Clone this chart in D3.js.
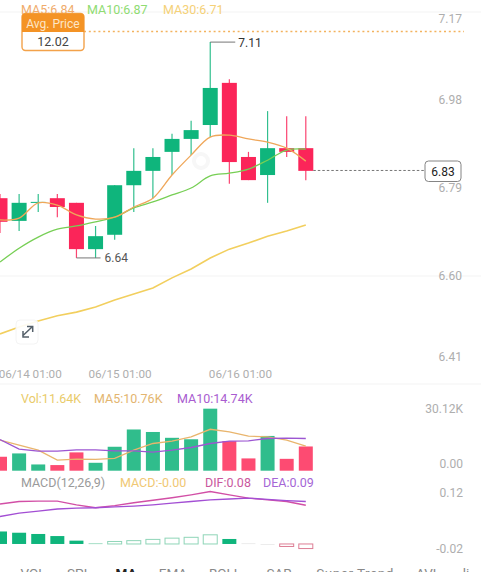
<!DOCTYPE html>
<html><head><meta charset="utf-8">
<script src="https://cdn.jsdelivr.net/npm/d3@7/dist/d3.min.js"></script>
<style>html,body{margin:0;padding:0;background:#fff;overflow:hidden}svg{display:block}text{font-family:Roboto,"Noto Sans",sans-serif}</style>
</head><body><div id="c"></div>
<script>
const indices=d3.range(17);
const opens =[6.768,6.719,6.758,6.768,6.758,6.658,6.689,6.796,6.827,6.868,6.896,6.926,7.017,6.857,6.818,6.876,6.876];
const closes=[6.717,6.758,6.760,6.749,6.658,6.686,6.796,6.827,6.857,6.896,6.915,7.006,6.846,6.807,6.876,6.868,6.827];
const highs =[6.777,6.777,6.777,6.777,6.758,6.708,6.796,6.876,6.876,6.907,6.935,7.105,7.025,6.868,6.956,6.945,6.945];
const lows  =[6.693,6.697,6.738,6.727,6.639,6.639,6.678,6.738,6.768,6.818,6.861,6.900,6.799,6.807,6.758,6.857,6.807];
const ma5 =[6.721,6.725,6.758,6.753,6.732,6.723,6.727,6.749,6.768,6.818,6.861,6.900,6.904,6.896,6.889,6.876,6.848];
const ma10=[6.630,6.660,6.684,6.701,6.708,6.717,6.727,6.747,6.760,6.775,6.790,6.816,6.822,6.831,6.850,6.872,6.874];
const ma30=[6.475,6.490,6.503,6.514,6.522,6.533,6.548,6.561,6.574,6.596,6.615,6.639,6.658,6.671,6.686,6.697,6.710];
const volumes=[6.7,8.3,3.0,2.7,8.8,3.8,11.5,19.8,18.6,15.8,15.1,29.8,14.2,5.9,16.7,5.7,11.64];
const volMa5 =[14.66,12.27,9.88,5.1,5.58,5.42,5.9,9.88,13.07,14.18,16.25,19.9,18.64,16.57,16.25,14.66,11.79];
const volMa10=[14.98,10.36,9.4,9.4,10.04,10.04,9.56,9.56,8.92,9.88,11.15,13.07,14.18,14.34,15.46,15.61,15.46];
const dif=[0.096,0.102,0.103,0.103,0.094,0.087,0.092,0.099,0.105,0.111,0.118,0.126,0.118,0.110,0.106,0.102,0.093];
const dea=[0.066,0.074,0.079,0.084,0.086,0.087,0.089,0.091,0.094,0.098,0.102,0.106,0.108,0.110,0.107,0.104,0.102];
const hist=[0.030,0.027,0.024,0.019,0.008,0.002,0.006,0.008,0.011,0.014,0.016,0.022,0.012,0.002,-0.002,-0.006,-0.011];
const priceTicks=[7.17,6.98,6.79,6.60,6.41];
const volTicks=[[30.12,"30.12K"],[0,"0.00"]];
const macdTicks=[[0.12,"0.12"],[-0.02,"-0.02"]];
const dateTicks=[[1.5,"06/14 01:00"],[6.2,"06/15 01:00"],[12.5,"06/16 01:00"]];
const tabs=[["VOL",33],["SPL",79],["MA",126],["EMA",173],["BOLL",225],["SAR",279],["Super Trend",355],["AVL",428],["li",466]];
const avgPrice=12.02, lastPrice=6.83, highLabel=7.11, lowLabel=6.64;

const W=481,H=572;
const green="#0fb57c",red="#fb2559",volGreen="#30bd8c",volRed="#fd4b72";
const x=d3.scaleLinear().domain([0,16]).range([0,305.8]);
const y=d3.scaleLinear().domain([6.60,7.17]).range([276,12]);
const yV=d3.scaleLinear().domain([0,30.12]).range([470.7,408]);
const yM=d3.scaleLinear().domain([-0.02,0.12]).range([552.3,494]);
const svg=d3.select("#c").append("svg").attr("width",W).attr("height",H);
const BW=15;

// grid
svg.selectAll(".g").data([12,276,384]).join("line")
  .attr("x1",0).attr("x2",W).attr("y1",d=>d).attr("y2",d=>d).attr("stroke","#f3f3f3");

// watermark hint
svg.append("circle").attr("cx",201).attr("cy",161).attr("r",7).attr("fill","none").attr("stroke","#f7f7f7").attr("stroke-width",4);

// avg price dotted
svg.append("line").attr("x1",84).attr("x2",464).attr("y1",31.5).attr("y2",31.5)
  .attr("stroke","#f3b25e").attr("stroke-width",1.3).attr("stroke-dasharray","2 2.8");

// candles
const isUp=i=>closes[i]>=opens[i];
const cCol=i=>isUp(i)?green:red;
svg.selectAll(".wick").data(indices).join("line")
  .attr("x1",i=>x(i)).attr("x2",i=>x(i)).attr("y1",i=>y(highs[i])).attr("y2",i=>y(lows[i]))
  .attr("stroke",i=>cCol(i)).attr("stroke-width",1.2).attr("opacity",.85);
svg.selectAll(".body").data(indices).join("rect")
  .attr("x",i=>x(i)-BW/2).attr("width",BW)
  .attr("y",i=>y(Math.max(opens[i],closes[i])))
  .attr("height",i=>Math.max(1,Math.abs(y(opens[i])-y(closes[i]))))
  .attr("fill",i=>cCol(i));

// MA lines
const line=(s,arr,c=d3.curveLinear)=>d3.line().x((d,i)=>x(i)).y(d=>s(d)).curve(c)(arr);
[[ma30,"#f2cf5e",1.6,d3.curveLinear],[ma10,"#77cf55",1.3,d3.curveCatmullRom],[ma5,"#efa75a",1.3,d3.curveCatmullRom]].forEach(([a,c,w,k])=>{
  svg.append("path").attr("d",line(y,a,k)).attr("fill","none").attr("stroke",c).attr("stroke-width",w);
});

// header legend
const T=(tx,ty,s,col,size=12.5,anchor="start",weight=400)=>svg.append("text").attr("x",tx).attr("y",ty)
  .attr("fill",col).attr("font-size",size).attr("text-anchor",anchor).attr("font-weight",weight).text(s);
T(21,14,"MA5:6.84","#f0ab6b");
T(87,14,"MA10:6.87","#8fdc72");
T(163,14,"MA30:6.71","#f5d178");

// Avg Price tag
svg.append("rect").attr("x",22).attr("y",13.5).attr("width",62).attr("height",37).attr("rx",3.5)
  .attr("fill","#fff").attr("stroke","#f3a24a").attr("stroke-width",1.4);
svg.append("path").attr("d","M22 32V16.5a3 3 0 0 1 3-3h56a3 3 0 0 1 3 3V32Z").attr("fill","#f49325");
T(53,27.5,"Avg. Price","#fde6c8",12,"middle");
T(53,46,avgPrice.toFixed(2),"#444",12.5,"middle");

// high / low callouts
const iH=highs.indexOf(d3.max(highs));
svg.append("path").attr("d",`M${x(iH)} ${y(highs[iH])}H${x(iH)+25}`).attr("fill","none").attr("stroke","#666").attr("stroke-width",.9);
T(x(iH)+28,y(highs[iH])+4.5,highLabel.toFixed(2),"#333",12);
svg.append("path").attr("d",`M${x(4)} ${y(lows[4])}H${x(5)+5}`).attr("fill","none").attr("stroke","#777").attr("stroke-width",1);
T(x(5)+9,y(lowLabel)+5,lowLabel.toFixed(2),"#555",12);

// price axis
priceTicks.forEach((p,i)=>{
  const dy=i===0?11:i===priceTicks.length-1?-3:3.5;
  T(462,y(p)+dy,p.toFixed(2),"#aeaeae",12,"end");
});

// last price
svg.append("line").attr("x1",x(16)+BW/2).attr("x2",424).attr("y1",y(lastPrice)+1).attr("y2",y(lastPrice)+1)
  .attr("stroke","#666").attr("stroke-dasharray","2.5 2").attr("stroke-width",.9);
svg.append("rect").attr("x",425).attr("y",161).attr("width",36).attr("height",20.5).attr("rx",3.5)
  .attr("fill","#fff").attr("stroke","#777").attr("stroke-width",.9);
T(443,175.5,lastPrice.toFixed(2),"#222",12,"middle");

// expand button
svg.append("rect").attr("x",16).attr("y",320).attr("width",22).attr("height",24).attr("rx",4)
  .attr("fill","#fff").attr("fill-opacity",.9).attr("stroke","#f4f4f4");
svg.append("path").attr("d","M22.5 336L32 327M27 326.5H32.7V332M23 331V337H29")
  .attr("fill","none").attr("stroke","#55606a").attr("stroke-width",1.5);

// date axis
dateTicks.forEach(([i,s])=>T(x(i)+1.5,378,s,"#aeaeae",11.7,"middle"));

// volume pane
T(21,403,"Vol:11.64K","#e9cb6a",12.5);
T(94,403,"MA5:10.76K","#e3b56f",12.5);
T(177,403,"MA10:14.74K","#a95cd0",12.5);
volTicks.forEach(([v,s])=>T(463,yV(v)+(v?5:-2.5),s,"#aeaeae",12,"end"));
svg.selectAll(".vol").data(indices).join("rect")
  .attr("x",i=>x(i)-7).attr("width",14).attr("y",i=>yV(volumes[i])).attr("height",i=>yV(0)-yV(volumes[i]))
  .attr("fill",i=>isUp(i)?volGreen:volRed);
svg.append("path").attr("d",line(yV,volMa5)).attr("fill","none").attr("stroke","#e9b56d").attr("stroke-width",1.3);
svg.append("path").attr("d",line(yV,volMa10)).attr("fill","none").attr("stroke","#9c56d2").attr("stroke-width",1.3);

// MACD pane
T(21,487,"MACD(12,26,9)","#9a9a9a",12.5);
T(120,487,"MACD:-0.00","#f0c873",12.5);
T(205,487,"DIF:0.08","#c9589d",12.5);
T(263,487,"DEA:0.09","#a566d6",12.5);
macdTicks.forEach(([v,s])=>T(463,yM(v)+(v>0?3:1),s,"#aeaeae",12,"end"));
const hollow=i=>i>0&&Math.abs(hist[i])>Math.abs(hist[i-1]);
const faint=i=>Math.abs(hist[i])<0.003&&!hollow(i);
svg.selectAll(".h").data(indices).join("rect")
  .attr("x",i=>x(i)-7).attr("width",14)
  .attr("y",i=>Math.min(yM(hist[i]),yM(0)))
  .attr("height",i=>Math.max(1,Math.abs(yM(hist[i])-yM(0))))
  .attr("fill",i=>hollow(i)?"#fff":faint(i)?(i===5?"#a6dfc7":"#ececec"):(hist[i]>=0?green:"#e77f98"))
  .attr("stroke",i=>hist[i]>=0?"#8fd5b8":"#dd7e95").attr("stroke-width",i=>hollow(i)?1:0);
svg.append("path").attr("d",line(yM,dif)).attr("fill","none").attr("stroke","#d24fa6").attr("stroke-width",1.4);
svg.append("path").attr("d",line(yM,dea)).attr("fill","none").attr("stroke","#a34fd4").attr("stroke-width",1.4);

// tabs
tabs.forEach(([s,tx])=>{
  const t=T(tx,578,s,s==="MA"?"#222":"#888",13.5,"middle",s==="MA"?700:400);
  if(s==="Super Trend")t.attr("letter-spacing",0.5);
});
</script></body></html>
